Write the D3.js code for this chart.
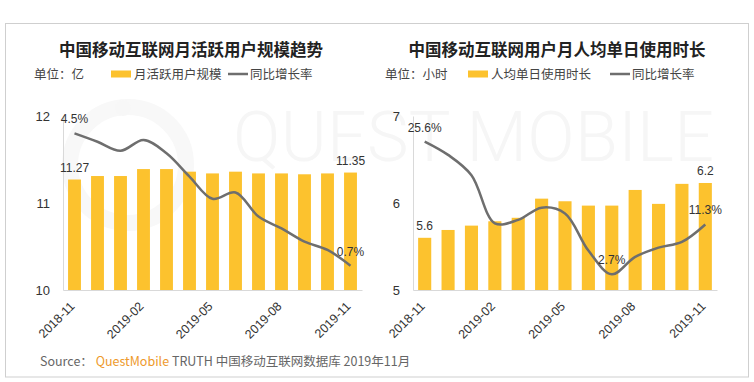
<!DOCTYPE html>
<html><head><meta charset="utf-8">
<script src="https://cdn.jsdelivr.net/npm/d3@7"></script>
<style>
html,body{margin:0;padding:0;background:#fff;}
svg{display:block;}
</style></head>
<body>
<svg id="c" width="754" height="382"></svg>
<script>
const months = ["2018-11","2018-12","2019-01","2019-02","2019-03","2019-04","2019-05","2019-06","2019-07","2019-08","2019-09","2019-10","2019-11"];
const tickMonths = ["2018-11","2019-02","2019-05","2019-08","2019-11"];
const mau = [11.27,11.31,11.31,11.39,11.39,11.36,11.34,11.36,11.34,11.34,11.33,11.34,11.35];
const mauGrowth = [4.5,4.26,4.0,4.31,3.93,3.26,2.62,2.8,2.11,1.77,1.39,1.15,0.7];
const hours = [5.6,5.69,5.74,5.79,5.83,6.05,6.02,5.97,5.97,6.15,5.99,6.22,6.23];
const hoursGrowth = [25.6,23.3,19.8,11.5,12.1,14.2,13.2,6.8,2.7,5.7,7.3,8.3,11.3];
const mauTicks = [10,11,12];
const hoursTicks = [5,6,7];
const mauBarLabels = [0,12];
const mauLineLabels = [0,12];
const hoursBarLabels = [0,12];
const hoursLineLabels = [0,8,12];

const YELLOW = "#FCC22E", LINE = "#6e6e6e", AXIS = "#d9d9d9";
const CJK = "'Noto Sans CJK SC','Noto Sans',sans-serif";
const NUM = "'Liberation Sans',Arial,sans-serif";

const svg = d3.select("#c");
// frame
svg.append("rect").attr("x",5.5).attr("y",23.5).attr("width",743).attr("height",353.5)
  .attr("fill","#fff").attr("stroke","#cfcfcf").attr("stroke-width",1);

// watermark
const wm = svg.append("g");
wm.append("circle").attr("cx",128).attr("cy",165).attr("r",58).attr("fill","none")
  .attr("stroke","#f8f8f8").attr("stroke-width",16);
wm.append("circle").attr("cx",123).attr("cy",108).attr("r",8).attr("fill","#f7f7f7");
wm.append("text").attr("x",233).attr("y",161).attr("textLength",481)
  .attr("font-family","Roboto,sans-serif").attr("font-weight",300).attr("font-size",70)
  .attr("fill","#f6f6f6").text("QUEST MOBILE");

function panel(opt){
  const g = svg.append("g");
  const x = d3.scaleBand().domain(months).range([opt.x0, opt.x1]).paddingInner(0.44).paddingOuter(0.22);
  const y = d3.scaleLinear().domain(opt.yDomain).range([290,116]);
  const y2 = d3.scaleLinear().domain(opt.y2Domain).range([290,116]);
  const cx = m => x(m) + x.bandwidth()/2;

  // title
  g.append("text").attr("x",opt.titleX).attr("y",56).attr("text-anchor","middle")
    .attr("font-family",CJK).attr("font-weight",700).attr("font-size",16.5).attr("fill","#222").text(opt.title);
  // legend
  const ly = 74;
  g.append("text").attr("x",opt.unitX).attr("y",ly+4.5).attr("font-family",CJK).attr("font-size",12.5)
    .attr("fill","#444").text(opt.unit);
  g.append("rect").attr("x",opt.sw1).attr("y",ly-3.5).attr("width",20).attr("height",7).attr("fill",YELLOW);
  g.append("text").attr("x",opt.sw1+23).attr("y",ly+4.5).attr("font-family",CJK).attr("font-size",12.5)
    .attr("fill","#444").text(opt.barName);
  g.append("line").attr("x1",opt.sw2).attr("x2",opt.sw2+20).attr("y1",ly).attr("y2",ly)
    .attr("stroke",LINE).attr("stroke-width",2.5);
  g.append("text").attr("x",opt.sw2+22).attr("y",ly+4.5).attr("font-family",CJK).attr("font-size",12.5)
    .attr("fill","#444").text("同比增长率");

  // y axis
  const ya = g.append("g").attr("transform",`translate(${opt.x0},0)`)
    .call(d3.axisLeft(y).tickValues(opt.ticks).tickSize(0).tickPadding(13).tickFormat(d3.format("d")));
  ya.select(".domain").attr("stroke",AXIS);
  ya.selectAll("text").attr("font-family",NUM).attr("font-size",13).attr("fill","#333");

  // bars
  g.selectAll(".bar").data(opt.bars).enter().append("rect")
    .attr("x",(d,i)=>x(months[i])).attr("width",x.bandwidth())
    .attr("y",d=>y(d)).attr("height",d=>290-y(d)).attr("fill",YELLOW);

  // x axis
  const xa = g.append("g").attr("transform","translate(0,290)")
    .call(d3.axisBottom(x).tickValues(tickMonths).tickSize(0).tickSizeOuter(0));
  xa.select(".domain").attr("stroke",AXIS);
  xa.selectAll("text").attr("font-family",NUM).attr("font-size",12.5).attr("fill","#333")
    .attr("text-anchor","end").attr("dy",0).attr("y",0)
    .attr("transform","translate(1,17) rotate(-45)");

  // line
  const line = d3.line().x((d,i)=>cx(months[i])).y(d=>y2(d)).curve(d3.curveCatmullRom.alpha(0.5));
  g.append("path").datum(opt.line).attr("d",line).attr("fill","none")
    .attr("stroke",LINE).attr("stroke-width",2.5);

  // labels
  opt.barLabels.forEach(i=>{
    g.append("text").attr("x",cx(months[i])).attr("y",y(opt.bars[i])-8).attr("text-anchor","middle")
      .attr("font-family",NUM).attr("font-size",12).attr("fill","#333").text(opt.barFmt(opt.bars[i]));
  });
  opt.lineLabels.forEach(i=>{
    g.append("text").attr("x",cx(months[i])).attr("y",y2(opt.line[i])-10).attr("text-anchor","middle")
      .attr("font-family",NUM).attr("font-size",12).attr("fill","#333").text(d3.format(".1f")(opt.line[i])+"%");
  });
}

panel({x0:63,x1:362,yDomain:[10,12],y2Domain:[0,5],ticks:mauTicks,bars:mau,line:mauGrowth,
  title:"中国移动互联网月活跃用户规模趋势",titleX:191,unit:"单位：亿",unitX:34,sw1:111,sw2:228,
  barName:"月活跃用户规模",barLabels:mauBarLabels,lineLabels:mauLineLabels,barFmt:d3.format(".2f")});
panel({x0:413,x1:717,yDomain:[5,7],y2Domain:[0,30],ticks:hoursTicks,bars:hours,line:hoursGrowth,
  title:"中国移动互联网用户月人均单日使用时长",titleX:557,unit:"单位：小时",unitX:385,sw1:468,sw2:610,
  barName:"人均单日使用时长",barLabels:hoursBarLabels,lineLabels:hoursLineLabels,barFmt:d3.format(".1f")});

// source
const src = svg.append("text").attr("x",40).attr("y",366).attr("font-family",CJK).attr("font-size",12.5).attr("fill","#666");
src.append("tspan").text("Source：  ");
src.append("tspan").attr("fill","#EE9A2C").text("QuestMobile");
src.append("tspan").text(" TRUTH 中国移动互联网数据库 2019年11月");
</script>
</body></html>
